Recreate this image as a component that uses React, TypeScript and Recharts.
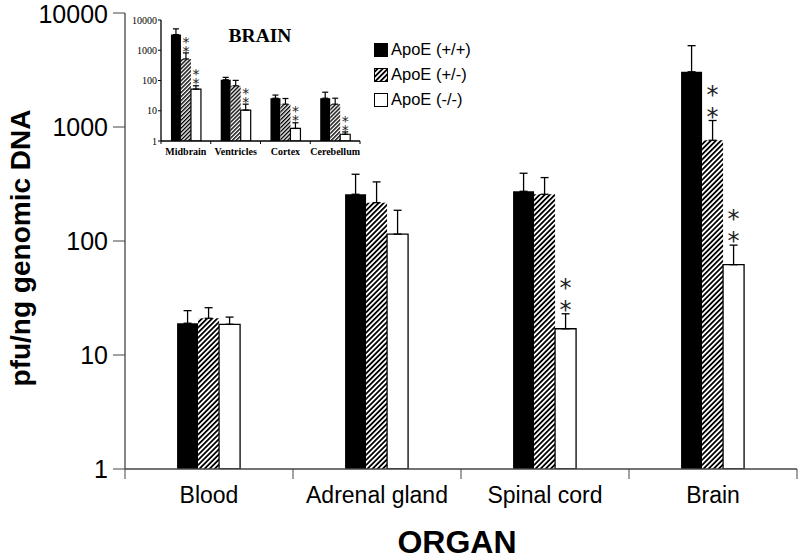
import React from 'react';
import { BarChart, Bar, XAxis, YAxis, ErrorBar, Legend, LabelList } from 'recharts';

// main panel: organs
const organs = ['Blood', 'Adrenal gland', 'Spinal cord', 'Brain'];
const wtMean = [19, 257, 273, 3050];
const wtUpper = [24.5, 385, 393, 5170];
const hetMean = [21, 217, 257, 765];
const hetUpper = [26, 330, 360, 1140];
const koMean = [18.6, 115, 17, 62];
const koUpper = [21.5, 186, 23, 92];
const hetStars = [false, false, false, true];
const koStars = [false, false, true, true];

// inset: brain regions
const regions = ['Midbrain', 'Ventricles', 'Cortex', 'Cerebellum'];
const brainWtMean = [3300, 106, 26, 26];
const brainWtUpper = [5100, 127, 33, 41];
const brainHetMean = [516, 67, 16.5, 16.5];
const brainHetUpper = [817, 101, 25.4, 26];
const brainKoMean = [52, 10.5, 2.6, 1.67];
const brainKoUpper = [67, 16.5, 4, 2];
const brainHetStars = [true, false, false, false];
const brainKoStars = [true, true, true, true];

const logTicks = [1, 10, 100, 1000, 10000];
const seriesNames = ['ApoE (+/+)', 'ApoE (+/-)', 'ApoE (-/-)'];

const SANS = '"Liberation Sans", Arial, sans-serif';
const SERIF = '"Liberation Serif", "Times New Roman", serif';
const STAR = '"DejaVu Sans", sans-serif';

const buildRows = (cats: string[], wm: number[], wu: number[], hm: number[], hu: number[], km: number[], ku: number[]) =>
  cats.map((name, i) => ({
    name,
    wt: wm[i],
    wtErr: [0, wu[i] - wm[i]],
    het: hm[i],
    hetErr: [0, hu[i] - hm[i]],
    ko: km[i],
    koErr: [0, ku[i] - km[i]],
  }));

const mainRows = buildRows(organs, wtMean, wtUpper, hetMean, hetUpper, koMean, koUpper);
const brainRows = buildRows(regions, brainWtMean, brainWtUpper, brainHetMean, brainHetUpper, brainKoMean, brainKoUpper);

// two stacked asterisks above the error bar cap
const starLabel = (flags: boolean[], means: number[], uppers: number[], size: number, lift: number, gap: number) => (p: any) => {
  const i = p.index;
  if (!flags[i]) return null;
  const vb = p.viewBox || p;
  const h = Number(vb.height);
  const bottom = Number(vb.y) + h;
  const capY = bottom - (h * Math.log10(uppers[i])) / Math.log10(means[i]);
  const cx = Number(vb.x) + Number(vb.width) / 2;
  const shift = size * 0.55;
  return (
    <g key={`stars-${i}`}>
      <text x={cx} y={capY - lift + shift} textAnchor="middle" fontSize={size} fontFamily={STAR} fill="#222">*</text>
      <text x={cx} y={capY - lift - gap + shift} textAnchor="middle" fontSize={size} fontFamily={STAR} fill="#222">*</text>
    </g>
  );
};

const OrganTick = (p: any) => {
  const { x, y, payload, index } = p;
  const half = payload.offset || p.width / p.visibleTicksCount / 2;
  return (
    <g>
      {index === 0 && <line x1={x - half} x2={x - half} y1={y} y2={y + 10} stroke="#444" />}
      <line x1={x + half} x2={x + half} y1={y} y2={y + 10} stroke="#444" />
      <text x={x} y={y + 34} textAnchor="middle" fontSize={23} fontFamily={SANS} fill="#000">
        {payload.value}
      </text>
    </g>
  );
};

const RegionTick = (p: any) => {
  const { x, y, payload, index } = p;
  const half = payload.offset || p.width / p.visibleTicksCount / 2;
  return (
    <g>
      {index === 0 && <line x1={x - half} x2={x - half} y1={y} y2={y + 3} stroke="#000" />}
      <line x1={x + half} x2={x + half} y1={y} y2={y + 3} stroke="#000" />
      <text x={x} y={y + 13.5} textAnchor="middle" fontSize={10} fontWeight="bold" fontFamily={SERIF} fill="#000">
        {payload.value}
      </text>
    </g>
  );
};

const renderLegend = (props: any) => (
  <div style={{ fontFamily: SANS, fontSize: 16.5, color: '#000', lineHeight: '25px' }}>
    {(props.payload || []).map((e: any, i: number) => (
      <div key={i} style={{ display: 'flex', alignItems: 'center', height: 25 }}>
        <svg width={17} height={16} style={{ marginRight: 1 }}>
          <rect x={1.5} y={1.5} width={13} height={13} fill={e.color} stroke="#000" strokeWidth={1} />
        </svg>
        <span>{e.value}</span>
      </div>
    ))}
  </div>
);

function BrainInset() {
  return (
    <div style={{ position: 'absolute', left: 128, top: 14 }}>
      <BarChart
        width={236}
        height={150}
        data={brainRows}
        margin={{ top: 6, right: 4, left: 0, bottom: 0 }}
        barCategoryGap="20%"
        barGap={0}
      >
        <defs>
          <pattern id="hatchSmall" width="2.8" height="2.8" patternUnits="userSpaceOnUse" patternTransform="rotate(45)">
            <rect width="2.8" height="2.8" fill="#fff" />
            <line x1="0.7" y1="0" x2="0.7" y2="2.8" stroke="#000" strokeWidth="1.4" />
          </pattern>
        </defs>
        <XAxis
          dataKey="name"
          interval={0}
          height={23}
          tickSize={0}
          tickMargin={0}
          tickLine={false}
          tick={<RegionTick />}
          axisLine={{ stroke: '#000', strokeWidth: 1.3 }}
        />
        <XAxis
          xAxisId="top"
          orientation="top"
          dataKey="name"
          height={0}
          tick={false}
          tickLine={false}
          axisLine={{ stroke: '#000', strokeWidth: 1.3 }}
        />
        <YAxis
          scale="log"
          domain={[1, 10000]}
          ticks={logTicks}
          allowDataOverflow
          width={33}
          tickSize={3}
          tickMargin={1}
          tick={{ fontSize: 10, fontFamily: SERIF, fill: '#000' }}
          axisLine={{ stroke: '#000', strokeWidth: 1.3 }}
          tickLine={{ stroke: '#000' }}
          label={{
            content: () => (
              <text x={132} y={28} textAnchor="middle" fontSize={19.5} fontWeight="bold" fontFamily={SERIF} fill="#000">
                BRAIN
              </text>
            ),
          }}
        />
        <YAxis yAxisId="right" orientation="right" width={0} tick={false} tickLine={false} axisLine={{ stroke: '#000', strokeWidth: 1.3 }} />
        <Bar dataKey="wt" fill="#000" isAnimationActive={false}>
          <ErrorBar dataKey="wtErr" width={3} stroke="#000" strokeWidth={1.2} />
        </Bar>
        <Bar dataKey="het" fill="url(#hatchSmall)" isAnimationActive={false}>
          <ErrorBar dataKey="hetErr" width={3} stroke="#000" strokeWidth={1.2} />
          <LabelList dataKey="het" content={starLabel(brainHetStars, brainHetMean, brainHetUpper, 14, 5, 9)} />
        </Bar>
        <Bar dataKey="ko" fill="#fff" stroke="#000" strokeWidth={1.2} isAnimationActive={false}>
          <ErrorBar dataKey="koErr" width={3} stroke="#000" strokeWidth={1.2} />
          <LabelList dataKey="ko" content={starLabel(brainKoStars, brainKoMean, brainKoUpper, 14, 5, 9)} />
        </Bar>
      </BarChart>
    </div>
  );
}

export default function App() {
  return (
    <div style={{ position: 'relative', width: 800, height: 560, background: '#fff' }}>
      <style>{'body{margin:0}'}</style>
      <BarChart
        width={800}
        height={560}
        data={mainRows}
        margin={{ top: 13, right: 3, left: 0, bottom: 0 }}
        barCategoryGap="31%"
        barGap={0}
      >
        <defs>
          <pattern id="hatch" width="3.6" height="3.6" patternUnits="userSpaceOnUse" patternTransform="rotate(45)">
            <rect width="3.6" height="3.6" fill="#fff" />
            <line x1="0.9" y1="0" x2="0.9" y2="3.6" stroke="#000" strokeWidth="1.8" />
          </pattern>
        </defs>
        <XAxis
          dataKey="name"
          interval={0}
          height={91}
          tickSize={0}
          tickMargin={0}
          tickLine={false}
          tick={<OrganTick />}
          axisLine={{ stroke: '#444', strokeWidth: 1.3 }}
          label={{
            content: () => (
              <text x={457} y={553} textAnchor="middle" fontSize={32} fontWeight="bold" fontFamily={SANS} fill="#000">
                ORGAN
              </text>
            ),
          }}
        />
        <XAxis xAxisId="top" orientation="top" dataKey="name" height={0} tick={false} tickLine={false} axisLine={{ stroke: '#777', strokeWidth: 1.3 }} />
        <YAxis
          scale="log"
          domain={[1, 10000]}
          ticks={logTicks}
          allowDataOverflow
          width={125}
          tickSize={12}
          tickMargin={5}
          tick={{ fontSize: 25, fontFamily: SANS, fill: '#000' }}
          axisLine={{ stroke: '#444', strokeWidth: 1.3 }}
          tickLine={{ stroke: '#444' }}
          label={{
            content: () => (
              <text transform="translate(30,248) rotate(-90)" textAnchor="middle" fontSize={28} fontWeight="bold" fontFamily={SANS} fill="#000">
                pfu/ng genomic DNA
              </text>
            ),
          }}
        />
        <YAxis yAxisId="right" orientation="right" width={0} tick={false} tickLine={false} axisLine={{ stroke: '#777', strokeWidth: 1.3 }} />
        <Legend
          layout="horizontal"
          verticalAlign="middle"
          align="center"
          content={renderLegend}
          wrapperStyle={{ left: 373, top: 37, width: 130, height: 80 }}
        />
        <Bar dataKey="wt" name={seriesNames[0]} fill="#000" isAnimationActive={false}>
          <ErrorBar dataKey="wtErr" width={4} stroke="#000" strokeWidth={1.3} />
        </Bar>
        <Bar dataKey="het" name={seriesNames[1]} fill="url(#hatch)" isAnimationActive={false}>
          <ErrorBar dataKey="hetErr" width={4} stroke="#000" strokeWidth={1.3} />
          <LabelList dataKey="het" content={starLabel(hetStars, hetMean, hetUpper, 24, 9, 22)} />
        </Bar>
        <Bar dataKey="ko" name={seriesNames[2]} fill="#fff" stroke="#000" strokeWidth={1.3} isAnimationActive={false}>
          <ErrorBar dataKey="koErr" width={4} stroke="#000" strokeWidth={1.3} />
          <LabelList dataKey="ko" content={starLabel(koStars, koMean, koUpper, 24, 9, 22)} />
        </Bar>
      </BarChart>
      <BrainInset />
    </div>
  );
}
